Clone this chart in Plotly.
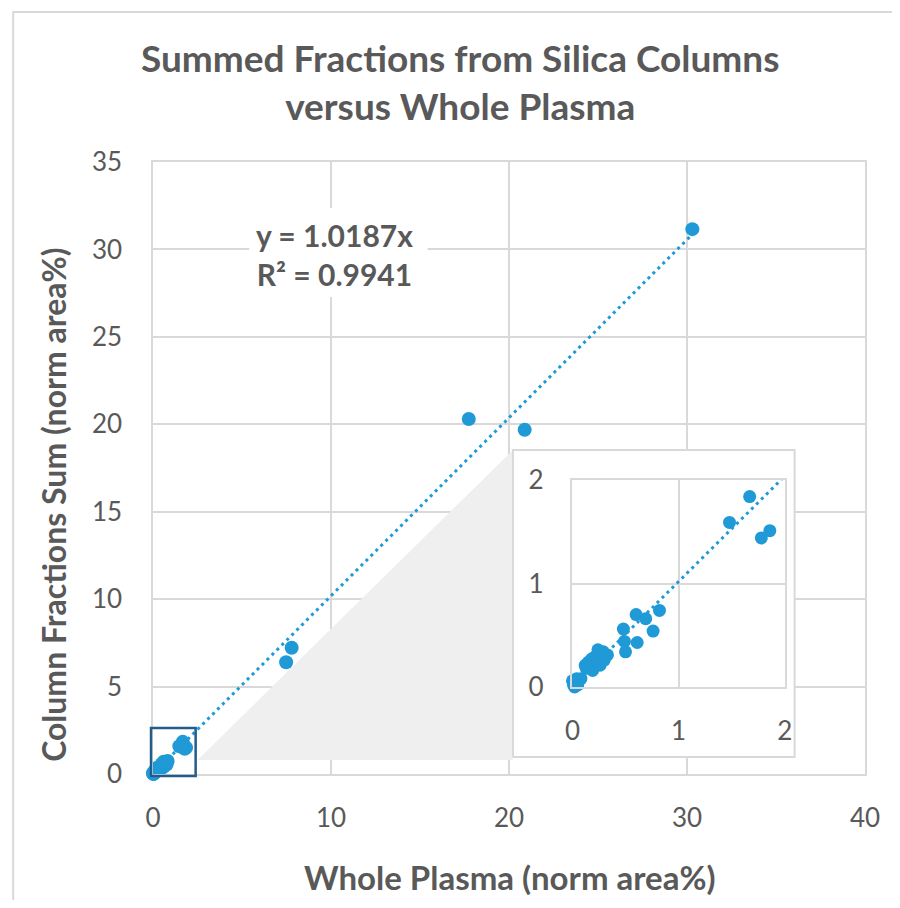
import plotly.graph_objects as go

# ---- data ----
whole_plasma = [30.3, 17.74, 20.88, 7.79, 7.48,
                1.67, 1.48, 1.78, 1.86,
                0.82, 0.60, 0.69, 0.76, 0.48, 0.61, 0.49, 0.50,
                0.29, 0.21, 0.15, 0.26, 0.13, 0.30, 0.19, 0.33, 0.24, 0.18, 0.27, 0.22, 0.12, 0.25,
                0.01, 0.04, 0.08, 0.00, 0.05, 0.02, 0.03]
column_sum = [31.16, 20.3, 19.69, 7.22, 6.39,
              1.84, 1.59, 1.44, 1.51,
              0.74, 0.70, 0.66, 0.54, 0.56, 0.43, 0.44, 0.34,
              0.34, 0.29, 0.24, 0.21, 0.18, 0.26, 0.16, 0.31, 0.36, 0.27, 0.28, 0.22, 0.21, 0.25,
              0.02, 0.08, 0.08, 0.06, 0.02, 0.00, 0.04]
slope = 1.0187
r_squared = 0.9941
main_x_ticks = [0, 10, 20, 30, 40]
main_y_ticks = [0, 5, 10, 15, 20, 25, 30, 35]
inset_ticks = [0, 1, 2]
title_text = "Summed Fractions from Silica Columns<br>versus Whole Plasma"
x_title = "Whole Plasma (norm area%)"
y_title = "Column Fractions Sum (norm area%)"

# ---- style ----
BLUE = "#1f9ad6"
GRID = "#d9d9d9"
TXT = "#595959"
FONT = "Lato"
OFF = 8                      # page body margin
W, H = 900 - 2 * OFF, 908 - 2 * OFF
# plot area in window pixels
PX0, PX1, PY0, PY1 = 153, 871, 162, 774
ML, MR, MT, MB = PX0 - OFF, W - (PX1 - OFF), PY0 - OFF, H - (PY1 - OFF)
PW, PH = W - ML - MR, H - MT - MB


def px_to_paper(px, py):
    return (px - PX0) / PW, (PY1 - py) / PH


def px_to_data(px, py):
    fx, fy = px_to_paper(px, py)
    return fx * 40, fy * 35


ix0, iy0 = px_to_paper(576, 687)
ix1, iy1 = px_to_paper(790, 480)

inset_x = [x for x, y in zip(whole_plasma, column_sum) if x <= 2 and y <= 2]
inset_y = [y for x, y in zip(whole_plasma, column_sum) if x <= 2 and y <= 2]

fig = go.Figure()

# gray connector triangle
t1 = px_to_data(198, 760)
t2 = px_to_data(516, 450)
t3 = px_to_data(516, 760)
fig.add_trace(go.Scatter(x=[t1[0], t2[0], t3[0], t1[0]], y=[t1[1], t2[1], t3[1], t1[1]],
                         fill="toself", fillcolor="#efefef", mode="none",
                         hoverinfo="skip", showlegend=False))

# trend line (main)
xmax = max(whole_plasma)
fig.add_trace(go.Scatter(x=[0, xmax], y=[0, slope * xmax], mode="lines",
                         line=dict(color=BLUE, width=3, dash="3px,4px"),
                         hoverinfo="skip", showlegend=False))

# white inset box (covers main gridlines)
b0 = px_to_data(516, 757)
b1 = px_to_data(800, 450)
fig.add_trace(go.Scatter(x=[b0[0], b1[0], b1[0], b0[0], b0[0]],
                         y=[b0[1], b0[1], b1[1], b1[1], b0[1]],
                         fill="toself", fillcolor="white", mode="lines",
                         line=dict(color=GRID, width=2),
                         hoverinfo="skip", showlegend=False))

# main markers
fig.add_trace(go.Scatter(x=whole_plasma, y=column_sum, mode="markers",
                         marker=dict(color=BLUE, size=14, line=dict(width=0)),
                         cliponaxis=False, showlegend=False))

# inset trend line and markers
fig.add_trace(go.Scatter(x=[0, xmax], y=[0, slope * xmax], mode="lines",
                         line=dict(color=BLUE, width=3, dash="3px,4px"),
                         xaxis="x2", yaxis="y2", hoverinfo="skip", showlegend=False))
fig.add_trace(go.Scatter(x=inset_x, y=inset_y, mode="markers",
                         marker=dict(color=BLUE, size=13, line=dict(width=0)),
                         xaxis="x2", yaxis="y2", cliponaxis=False, showlegend=False))

tickfont = dict(family=FONT, size=26, color=TXT)
axis_common = dict(showgrid=True, gridcolor=GRID, gridwidth=1.5, zeroline=False,
                   showline=True, mirror=True, linecolor=GRID, linewidth=1.5,
                   ticks="", tickfont=tickfont)

fig.update_layout(
    width=W, height=H,
    margin=dict(l=ML, r=MR, t=MT, b=MB),
    paper_bgcolor="white", plot_bgcolor="white",
    xaxis=dict(range=[0, 40], tickvals=main_x_ticks, domain=[0, 1], ticklabelstandoff=20, **axis_common),
    yaxis=dict(range=[0, 35], tickvals=main_y_ticks, domain=[0, 1], ticklabelstandoff=24, **axis_common),
    xaxis2=dict(range=[0, 2], tickvals=inset_ticks, domain=[ix0, ix1], anchor="y2",
                ticklabelstandoff=20, **axis_common),
    yaxis2=dict(range=[0, 2], tickvals=inset_ticks, domain=[iy0, iy1], anchor="x2",
                ticklabelstandoff=22, **axis_common),
    showlegend=False,
)

# outer chart border
ox0, oy1 = px_to_paper(12, 12)
ox1, oy0 = px_to_paper(930, 940)
fig.add_shape(type="rect", xref="paper", yref="paper", x0=ox0, x1=ox1, y0=oy0, y1=oy1,
              line=dict(color=GRID, width=2), layer="below")

# small zoom box (paper coords so it is not clipped)
zx0, zy0 = px_to_paper(151, 776)
zx1, zy1 = px_to_paper(196, 728)
fig.add_shape(type="rect", xref="paper", yref="paper", x0=zx0, x1=zx1, y0=zy0, y1=zy1,
              line=dict(color="#215d8c", width=2.5), layer="above")

# white box behind the equation
ex0, ey0 = px_to_data(250, 297)
ex1, ey1 = px_to_data(430, 208)
fig.add_shape(type="rect", xref="x", yref="y", x0=ex0, x1=ex1, y0=ey0, y1=ey1,
              line=dict(width=0), fillcolor="white", layer="above")

tx, ty = px_to_paper(463, 81)
fig.add_annotation(text=title_text, xref="paper", yref="paper", x=tx, y=ty,
                   showarrow=False, xanchor="center", yanchor="middle",
                   font=dict(family=FONT, size=37, color=TXT, weight="bold"))
ax, ay = px_to_paper(513, 877)
fig.add_annotation(text=x_title, xref="paper", yref="paper", x=ax, y=ay,
                   showarrow=False, xanchor="center", yanchor="middle",
                   font=dict(family=FONT, size=33, color=TXT, weight="bold"))
yx, yy = px_to_paper(52, 505)
fig.add_annotation(text=y_title, xref="paper", yref="paper", x=yx, y=yy, textangle=-90,
                   showarrow=False, xanchor="center", yanchor="middle",
                   font=dict(family=FONT, size=32, color=TXT, weight="bold"))
eqx, eqy = px_to_data(336, 254)
fig.add_annotation(text=f"y = {slope:.4f}x<br>R² = {r_squared:.4f}", xref="x", yref="y",
                   x=eqx, y=eqy, showarrow=False, xanchor="center", yanchor="middle",
                   font=dict(family=FONT, size=30, color=TXT, weight="bold"))

fig.write_html("out.html")
